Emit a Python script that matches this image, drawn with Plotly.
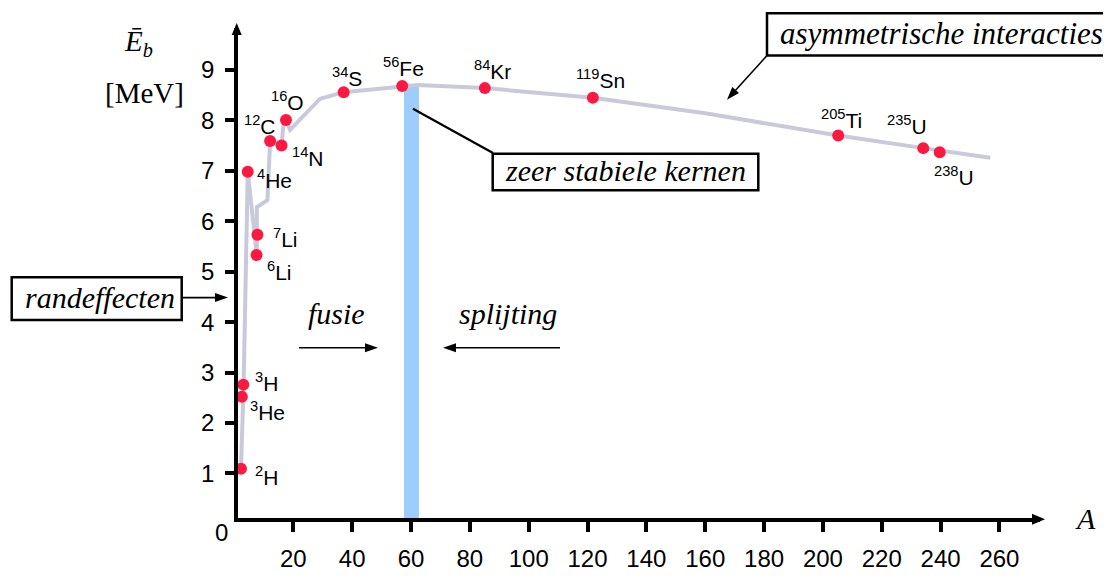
import math
import plotly.graph_objects as go

# ---------------- data ----------------
isotope_mass = [2, 3, 3, 4, 6, 7, 12, 14, 16, 34, 56, 84, 119, 205, 235, 238]
isotope_symbol = ["H", "He", "H", "He", "Li", "Li", "C", "N", "O", "S", "Fe", "Kr", "Sn", "Ti", "U", "U"]
isotope_A = [2.2, 2.5, 3.0, 4.5, 7.5, 7.8, 12.1, 16.0, 17.5, 37.1, 57.0, 85.1, 121.8, 205.2, 234.1, 239.7]
isotope_E = [1.09, 2.52, 2.76, 6.98, 5.33, 5.73, 7.59, 7.50, 8.01, 8.56, 8.68, 8.64, 8.45, 7.70, 7.45, 7.37]

curve_A = [2.2, 3.1, 4.5, 7.6, 7.6, 11.2, 12.1, 16.0, 16.6, 17.5, 18.9, 29.1, 37.1, 57.0, 62.4, 85.1, 121.8, 160.0, 205.2, 234.1, 256.9]
curve_E = [1.09, 2.75, 6.98, 5.32, 6.28, 6.42, 7.59, 7.50, 7.90, 8.01, 7.81, 8.43, 8.56, 8.68, 8.70, 8.64, 8.45, 8.14, 7.70, 7.45, 7.26]

band_A = [57.6, 62.7]
band_top = 8.69

x_ticks = [20, 40, 60, 80, 100, 120, 140, 160, 180, 200, 220, 240, 260]
y_ticks = [1, 2, 3, 4, 5, 6, 7, 8, 9]

# ---------------- layout geometry (screen pixels) ----------------
W, H = 1111, 576
X_OFF = 8                  # page offset, horizontal
Y_OFF, Y_SCALE = 5.7, 0.972  # observed page offset / vertical scale of the capture
Ls, Rs, Ts, Bs = 238, 1040, 25, 523
A0, SX = 234.5, 2.942      # screen pixel of A=0, px per unit
E0, SY = 528.9, 51.25      # screen pixel of E=0, px per unit


def fx(sx):
    return sx - X_OFF


def fy(sy):
    return (sy - Y_OFF) / Y_SCALE


def A_of(px):
    return (px - A0) / SX


def E_of(py):
    return (E0 - py) / SY


def xp(px):
    return (px - Ls) / (Rs - Ls)


def yp(py):
    return (Bs - py) / (Bs - Ts)


SANS = "Liberation Sans"
SERIF = "Liberation Serif"

fig = go.Figure()
fig.add_trace(go.Scatter(x=curve_A, y=curve_E, mode="lines",
                         line=dict(color="#c9c9dc", width=4), hoverinfo="skip"))
fig.add_trace(go.Scatter(x=isotope_A, y=isotope_E, mode="markers",
                         marker=dict(color="#fb1942", size=12, line=dict(width=0)),
                         cliponaxis=False))

shapes = []
annotations = []

# stable band
shapes.append(dict(type="rect", xref="x", yref="y", x0=band_A[0], x1=band_A[1],
                   y0=0, y1=band_top, fillcolor="#9dcdfb", line=dict(width=0), layer="below"))

# isotope labels (pixel offsets relative to points)
label_offsets = [(12, 7), (6, 14), (10, -3), (7, 7), (8, 16), (14, 3), (-28, -16), (8, 11),
                 (-17, -19), (-14, -15), (-21, -19.5), (-13, -18), (-19, -18.5), (-19, -17),
                 (-38, -23), (-8, 24)]
for m, s, a, e, (dx, dy) in zip(isotope_mass, isotope_symbol, isotope_A, isotope_E, label_offsets):
    annotations.append(dict(x=a, y=e, xref="x", yref="y", text=f"<sup>{m}</sup>{s}",
                            showarrow=False, xanchor="left", yanchor="middle",
                            xshift=dx, yshift=-dy, font=dict(family=SANS, size=21, color="black")))


def head(tip, direction, length=13, width=9):
    tx, ty = tip
    ux, uy = direction
    n = math.hypot(ux, uy)
    ux, uy = ux / n, uy / n
    px_, py_ = -uy, ux
    bx, by = -length * ux, -length * uy
    c1 = (bx + px_ * width / 2, by + py_ * width / 2)
    c2 = (bx - px_ * width / 2, by - py_ * width / 2)
    path = f"M0,0 L{c1[0]:.2f},{-c1[1]:.2f} L{c2[0]:.2f},{-c2[1]:.2f} Z"
    return dict(type="path", xref="paper", yref="paper", xsizemode="pixel", ysizemode="pixel",
                xanchor=xp(tx), yanchor=yp(ty), path=path, fillcolor="black",
                line=dict(width=0), layer="above")


def seg(p0, p1, width=1.6):
    return dict(type="line", xref="paper", yref="paper", x0=xp(p0[0]), y0=yp(p0[1]),
                x1=xp(p1[0]), y1=yp(p1[1]), line=dict(color="black", width=width), layer="above")


# axis arrowheads
shapes.append(head((1045, 524.3), (1, 0), length=13, width=11))
shapes.append(head((236.7, 20), (0, -1), length=12, width=10))

# annotation arrows
shapes.append(seg((182, 299), (220, 299)))
shapes.append(head((228, 299), (1, 0)))
shapes.append(seg((299, 350), (370, 350)))
shapes.append(head((378, 350), (1, 0)))
shapes.append(seg((560, 350), (451, 350)))
shapes.append(head((443, 350), (-1, 0)))
shapes.append(seg((767, 53), (734, 90)))
shapes.append(head((727, 98), (727 - 767, 98 - 53)))
shapes.append(seg((493, 152), (413, 107), width=2.2))


# boxes
def box(x0, y0, x1, y1):
    return dict(type="rect", xref="paper", yref="paper", x0=xp(x0), y0=yp(y1), x1=xp(x1), y1=yp(y0),
                fillcolor="white", line=dict(color="black", width=2.5), layer="above")


shapes.append(box(767, 10, 1125, 53))
shapes.append(box(492.7, 152.7, 758.3, 190))
shapes.append(box(11.7, 278.3, 181.7, 321.7))


def text(px, py, s, size=30, family=SERIF, xanchor="left", italic=True):
    annotations.append(dict(x=xp(px), y=yp(py), xref="paper", yref="paper",
                            text=(f"<i>{s}</i>" if italic else s), showarrow=False,
                            xanchor=xanchor, yanchor="middle",
                            font=dict(family=family, size=size, color="black")))


text(778, 31, "asymmetrische interacties", size=31)
text(503, 170, "zeer stabiele kernen", size=30)
text(22.7, 299, "randeffecten")
text(336, 315, "fusie", xanchor="center")
text(507.5, 315, "splijting", xanchor="center")
text(1085, 524, "A", xanchor="center")
text(138, 40, "<i>Ē</i><sub><i>b</i></sub>", size=29, xanchor="center", italic=False)
text(144, 91, "[MeV]", size=29, xanchor="center", italic=False)
text(221.5, 538, "0", size=24, family=SANS, xanchor="center", italic=False)

fig.update_layout(
    width=W, height=H,
    margin=dict(l=fx(Ls), r=W - fx(Rs), t=fy(Ts), b=H - fy(Bs), pad=0),
    plot_bgcolor="white", paper_bgcolor="white",
    showlegend=False,
    shapes=shapes, annotations=annotations,
    xaxis=dict(range=[A_of(Ls), A_of(Rs)], showline=True, linecolor="black", linewidth=3.5,
               ticks="outside", ticklen=10, tickwidth=3.5, tickcolor="black",
               tickvals=x_ticks, ticktext=[str(v) for v in x_ticks],
               showgrid=False, zeroline=False, ticklabelstandoff=6,
               tickfont=dict(family=SANS, size=24, color="black")),
    yaxis=dict(range=[E_of(Bs), E_of(Ts)], showline=True, linecolor="black", linewidth=3.5,
               ticks="outside", ticklen=9, tickwidth=3.5, tickcolor="black",
               tickvals=y_ticks, ticktext=[str(v) for v in y_ticks],
               showgrid=False, zeroline=False, ticklabelstandoff=6,
               tickfont=dict(family=SANS, size=24, color="black")),
)

fig.write_html("out.html")
